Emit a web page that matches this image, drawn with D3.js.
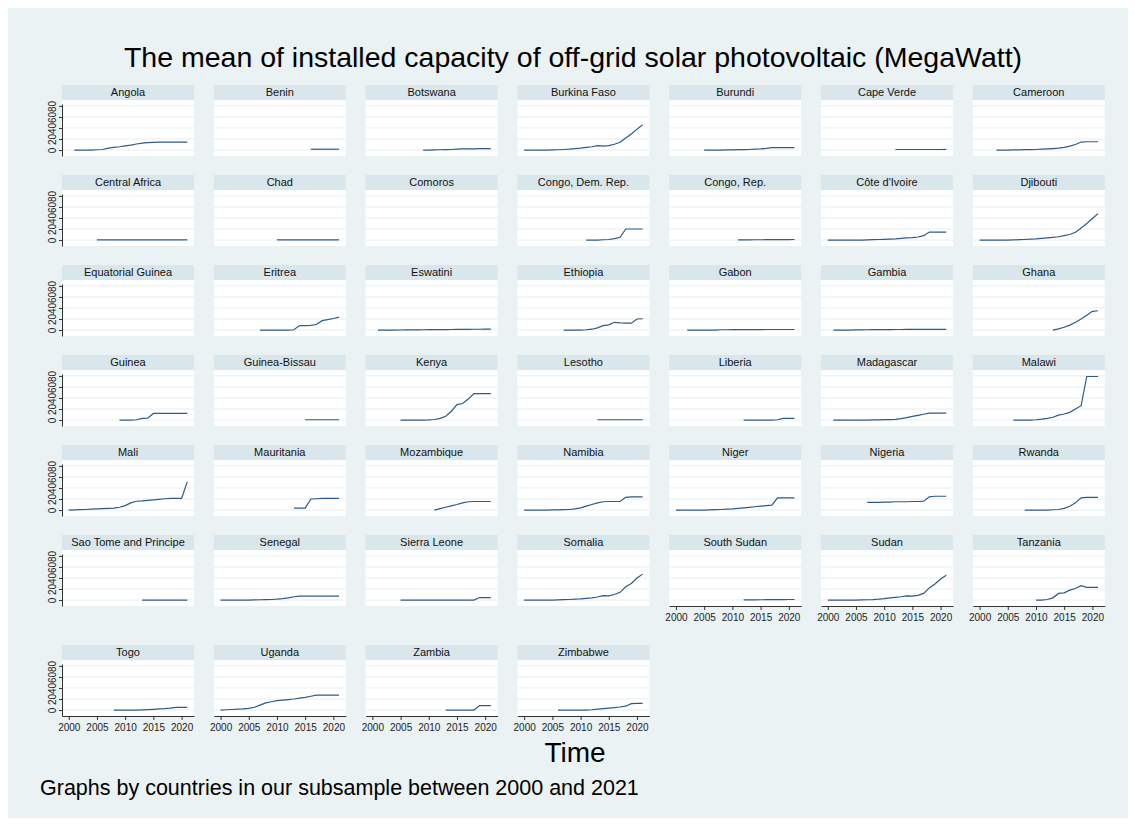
<!DOCTYPE html>
<html>
<head>
<meta charset="utf-8">
<script src="https://cdn.jsdelivr.net/npm/d3@7"></script>
<style>
  body { margin: 0; background: #fff; }
  svg { display: block; font-family: "Liberation Sans", Arial, Helvetica, sans-serif; }
</style>
</head>
<body>
<div id="chart"></div>
<script>
// countries in panel order (7 per row)
const countries = [
  'Angola', 'Benin', 'Botswana', 'Burkina Faso', 'Burundi', 'Cape Verde', 'Cameroon',
  'Central Africa', 'Chad', 'Comoros', 'Congo, Dem. Rep.', 'Congo, Rep.', "Côte d'Ivoire", 'Djibouti',
  'Equatorial Guinea', 'Eritrea', 'Eswatini', 'Ethiopia', 'Gabon', 'Gambia', 'Ghana',
  'Guinea', 'Guinea-Bissau', 'Kenya', 'Lesotho', 'Liberia', 'Madagascar', 'Malawi',
  'Mali', 'Mauritania', 'Mozambique', 'Namibia', 'Niger', 'Nigeria', 'Rwanda',
  'Sao Tome and Principe', 'Senegal', 'Sierra Leone', 'Somalia', 'South Sudan', 'Sudan', 'Tanzania',
  'Togo', 'Uganda', 'Zambia', 'Zimbabwe'
];

// first year with data for each country
const firstYear = [
  2001, 2016, 2009, 2000, 2005, 2012, 2003,
  2005, 2010, null, 2011, 2011, 2000, 2000,
  null, 2007, 2001, 2007, 2002, 2001, 2013,
  2009, 2015, 2005, 2013, 2012, 2001, 2006,
  2000, 2013, 2011, 2000, 2000, 2007, 2008,
  2013, 2000, 2005, 2000, 2012, 2000, 2010,
  2008, 2000, 2013, 2006
];

// mean installed capacity (MW), one value per year from firstYear
const capacity = [
  [0, 0, 0, 0, 0.5, 1, 3.5, 5, 6, 7.5, 9, 11, 12.5, 13.5, 14, 14.5, 14.5, 14.5, 14.5, 14.5, 14.5],
  [1.5, 1.5, 1.5, 1.5, 1.5, 1.5],
  [0, 0, 0.3, 0.5, 0.7, 1, 1.5, 2, 2, 2.3, 2.4, 2.4, 2.5],
  [0, 0, 0, 0, 0, 0.3, 0.5, 1, 1.5, 2.5, 3.5, 5, 6, 8, 7, 8, 10.5, 14, 22, 29, 38, 46],
  [0, 0, 0, 0, 0.2, 0.4, 0.6, 0.8, 1, 1.5, 2, 3, 4.5, 4.5, 4.5, 4.5, 4.5],
  [1, 1, 1, 1, 1, 1, 1, 1, 1, 1.2],
  [0, 0, 0, 0.2, 0.4, 0.6, 0.8, 1, 1.5, 2, 2.7, 3.5, 5, 7, 10, 14.5, 15, 15, 15],

  [0.2, 0.2, 0.2, 0.2, 0.2, 0.2, 0.2, 0.2, 0.2, 0.2, 0.2, 0.2, 0.2, 0.2, 0.2, 0.2, 0.2],
  [0.3, 0.3, 0.3, 0.3, 0.3, 0.3, 0.3, 0.3, 0.3, 0.3, 0.3, 0.3],
  [],
  [0, 0, 0, 0.5, 1, 2.5, 5, 20, 20, 20, 20],
  [0.3, 0.3, 0.4, 0.5, 0.5, 0.6, 0.7, 0.8, 0.8, 0.9, 1],
  [0, 0, 0, 0, 0, 0, 0, 0.3, 0.6, 1, 1.3, 1.7, 2.2, 3, 3.8, 4.5, 5.5, 8, 14.5, 14.5, 14.5, 14.5],
  [0, 0, 0, 0, 0, 0, 0.3, 0.6, 1, 1.5, 2, 3, 4, 5, 6, 8, 10, 14, 22, 30, 39, 48],

  [],
  [0, 0, 0, 0, 0, 0, 0.5, 8, 8, 8.5, 10, 17, 19, 21, 23.5],
  [0, 0, 0, 0, 0.1, 0.2, 0.3, 0.4, 0.5, 0.6, 0.7, 0.8, 0.9, 1, 1.1, 1.2, 1.3, 1.4, 1.4, 1.5, 1.5],
  [0, 0, 0, 0, 0.5, 1.5, 4, 8, 9.5, 14, 13, 12.5, 12.5, 20, 20.5],
  [0, 0, 0, 0, 0, 0, 0.5, 0.5, 0.6, 0.7, 0.8, 0.8, 0.9, 0.9, 1, 1, 1, 1, 1, 1],
  [0, 0, 0, 0, 0.2, 0.3, 0.5, 0.6, 0.7, 0.8, 0.9, 1, 1, 1.1, 1.1, 1.2, 1.2, 1.2, 1.2, 1.2, 1.2],
  [0, 2, 5, 9, 14, 20, 27, 34, 35],

  [0, 0, 0, 0.5, 3, 3.5, 12, 12, 12, 12, 12, 12, 12],
  [0.5, 0.5, 0.5, 0.5, 0.5, 0.5, 0.5],
  [0, 0, 0, 0, 0, 0.3, 1, 3, 7, 16, 28, 30, 38, 48, 48, 48, 48],
  [0.5, 0.5, 0.5, 0.5, 0.5, 0.5, 0.5, 0.5, 0.5],
  [0, 0, 0, 0, 0, 0, 0.5, 3, 3, 3.2],
  [0, 0, 0, 0, 0, 0, 0, 0.2, 0.4, 0.6, 0.9, 1.2, 2.5, 4.5, 6.5, 8.5, 10.5, 12.5, 12.5, 12.5, 12.5],
  [0, 0, 0, 0, 0.5, 1.5, 3, 5, 9, 11, 14, 20, 26, 79, 79, 79],

  [0, 0.3, 0.6, 1, 1.5, 2, 2.5, 3, 3.5, 5, 8, 13, 16, 16.5, 17.5, 18.5, 19.5, 20.5, 21, 21, 21, 51],
  [3.5, 3.5, 3.5, 20, 20.5, 21, 21, 21, 21],
  [0, 2.5, 5, 7.5, 10, 13, 15, 15.5, 15.5, 15.5, 15.5],
  [0, 0, 0, 0, 0, 0.2, 0.4, 0.6, 1, 2, 4, 7, 10, 13, 15, 15.5, 15.5, 15.5, 23, 24, 24, 24],
  [0, 0, 0, 0, 0, 0, 0.3, 0.6, 1, 1.5, 2, 3, 4, 5, 6, 7, 8, 9, 22, 22, 22, 22],
  [14, 14, 14, 14.5, 14.5, 15, 15, 15, 15.5, 15.5, 16, 24, 25, 25, 25],
  [0, 0, 0, 0, 0, 0.5, 1, 3, 7, 13, 22, 23, 23, 23],

  [0, 0, 0, 0, 0, 0, 0, 0, 0],
  [0, 0, 0, 0, 0, 0, 0.3, 0.5, 0.8, 1, 1.5, 2.5, 4, 6, 7, 7, 7, 7, 7, 7, 7, 7],
  [0, 0, 0, 0, 0, 0, 0, 0, 0, 0, 0, 0, 0, 0, 4.5, 4.5, 4.5],
  [0, 0, 0, 0, 0, 0, 0.3, 0.6, 1, 1.5, 2, 3, 4, 5.5, 8, 7.5, 10, 14, 24, 30, 40, 47],
  [0.3, 0.3, 0.4, 0.5, 0.6, 0.7, 0.8, 0.9, 1, 1],
  [0, 0, 0, 0, 0, 0, 0.3, 0.5, 0.8, 1.5, 2.5, 4, 5, 6, 7.5, 7, 8.5, 12, 22, 29, 38, 45],
  [0, 0, 1, 4, 12, 13, 18, 21, 26, 23, 23, 23],

  [0, 0, 0, 0, 0, 0.3, 0.8, 1.3, 2, 2.5, 3.5, 4.8, 5, 5],
  [0, 0.5, 1, 1.5, 2, 3, 5, 9, 13, 15, 17, 18, 19, 20, 21.5, 23, 25, 27, 27, 27, 27, 27],
  [0, 0, 0, 0, 0, 0, 8, 8, 8],
  [0, 0, 0, 0, 0, 0, 0.5, 1.5, 2.5, 3.5, 4.5, 5.5, 7, 11.5, 12, 12]
];

const yearTicks = [2000, 2005, 2010, 2015, 2020];
const mwTicks = [0, 20, 40, 60, 80];

const width = 1135;
const height = 825;
const nCols = 7;
const colLeft = 62, colStep = 151.8;
const rowTops = [85, 175, 265, 355, 445, 535, 645];
const stripH = 15, pw = 132, ph = 56;

const svg = d3.select('#chart')
  .append('svg')
  .attr('width', width)
  .attr('height', height);

svg.append('rect')
  .attr('x', 8).attr('y', 8)
  .attr('width', 1120).attr('height', 810)
  .attr('fill', '#eaf2f3');

const x = d3.scaleLinear().domain([1998.8, 2022.2]).range([0, pw]);
const y = d3.scaleLinear().domain([-10.8, 83.5]).range([ph, 4]);

const line = d3.line()
  .x(d => x(d.year))
  .y(d => y(d.mw));

countries.forEach((name, i) => {
  const col = i % nCols;
  const row = Math.floor(i / nCols);
  const left = colLeft + col * colStep;
  const top = rowTops[row];

  const panel = svg.append('g')
    .attr('transform', `translate(${left},${top})`);

  panel.append('rect')
    .attr('width', pw).attr('height', stripH)
    .attr('fill', '#d9e6eb');

  panel.append('text')
    .attr('x', pw / 2).attr('y', stripH / 2)
    .attr('dy', '0.36em')
    .attr('text-anchor', 'middle')
    .attr('font-size', '11px')
    .attr('fill', '#111')
    .text(name);

  const plot = panel.append('g')
    .attr('transform', `translate(0,${stripH})`);

  plot.append('rect')
    .attr('width', pw).attr('height', ph)
    .attr('fill', '#fff');

  plot.selectAll('.grid')
    .data(mwTicks)
    .enter()
    .append('line')
    .attr('x1', 0).attr('x2', pw)
    .attr('y1', d => y(d)).attr('y2', d => y(d))
    .attr('stroke', '#e6eef1')
    .attr('stroke-width', 1);

  if (firstYear[i] !== null) {
    const pts = capacity[i].map((v, k) => ({ year: firstYear[i] + k, mw: v }));
    plot.append('path')
      .datum(pts)
      .attr('d', line)
      .attr('fill', 'none')
      .attr('stroke', '#2f5a84')
      .attr('stroke-width', 1.2);
  }

  // y axis only on first column
  if (col === 0) {
    const ya = plot.append('g')
      .call(d3.axisLeft(y).tickValues(mwTicks).tickSize(3).tickSizeOuter(0));
    ya.select('.domain').attr('stroke', '#333');
    ya.selectAll('line').attr('stroke', '#333');
    ya.selectAll('text')
      .attr('x', 0).attr('y', -6).attr('dy', 0)
      .attr('text-anchor', 'middle')
      .attr('transform', 'rotate(-90)')
      .attr('font-size', '10px')
      .attr('font-family', '"Liberation Sans", Arial, sans-serif')
      .attr('fill', '#222');
  }

  // x axis on the lowest panel of each column
  if (i + nCols >= countries.length) {
    const xa = plot.append('g')
      .attr('transform', `translate(0,${ph})`)
      .call(d3.axisBottom(x).tickValues(yearTicks).tickSize(4).tickPadding(4).tickSizeOuter(0).tickFormat(d3.format('d')));
    xa.select('.domain').attr('stroke', '#333');
    xa.selectAll('line').attr('stroke', '#333');
    xa.selectAll('text')
      .attr('font-size', '10px')
      .attr('font-family', '"Liberation Sans", Arial, sans-serif')
      .attr('fill', '#222');
  }
});

svg.append('text')
  .attr('x', 573).attr('y', 67)
  .attr('text-anchor', 'middle')
  .attr('font-size', '28.5px')
  .attr('fill', '#000')
  .text('The mean of installed capacity of off-grid solar photovoltaic (MegaWatt)');

svg.append('text')
  .attr('x', 575).attr('y', 762)
  .attr('text-anchor', 'middle')
  .attr('font-size', '28px')
  .attr('fill', '#000')
  .text('Time');

svg.append('text')
  .attr('x', 40).attr('y', 795)
  .attr('font-size', '21.5px')
  .attr('fill', '#000')
  .text('Graphs by countries in our subsample between 2000 and 2021');
</script>
</body>
</html>
